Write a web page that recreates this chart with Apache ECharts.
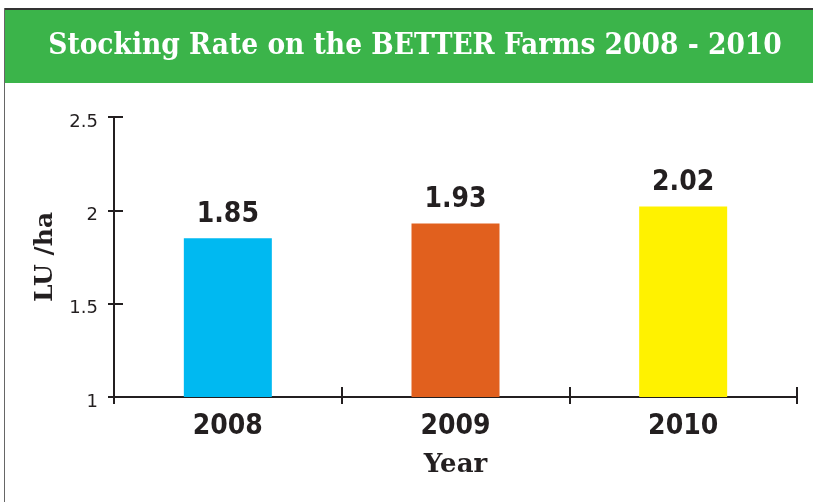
<!DOCTYPE html>
<html><head><meta charset="utf-8">
<script src="https://cdn.jsdelivr.net/npm/echarts@6/dist/echarts.min.js"></script>
<style>html,body{margin:0;padding:0;background:#fff}#c{width:813px;height:502px}</style>
</head><body><div id="c"></div>
<script>
const titleText = 'Stocking Rate on the BETTER Farms 2008 - 2010';
const categories = ['2008', '2009', '2010'];
const values = [1.85, 1.93, 2.02];
const barColors = ['#00b9f1', '#e1601e', '#fff200'];
const yTicks = [1, 1.5, 2, 2.5];
const yName = 'LU /ha';
const xName = 'Year';
const ink = '#231f20';

const chart = echarts.init(document.getElementById('c'));
const axisCommon = {min: yTicks[0], max: yTicks[yTicks.length-1], interval: yTicks[1]-yTicks[0], splitLine:{show:false}};
chart.setOption({
  animation:false,
  backgroundColor:'#fff',
  graphic:[
    {type:'rect', shape:{x:4,y:10,width:809,height:73}, style:{fill:'#3bb44a'}, z:0},
    {type:'rect', shape:{x:4,y:8,width:809,height:2}, style:{fill:'#333'}, z:1},
    {type:'rect', shape:{x:4,y:8,width:1,height:494}, style:{fill:'#666'}, z:1},
    {type:'text', x:415, y:46, style:{text:titleText, fill:'#fff', font:'bold 29.5px "DejaVu Serif Condensed", "DejaVu Serif"', align:'center', verticalAlign:'middle'}, z:2}
  ],
  grid:{left:114, right:16, top:117, bottom:105},
  xAxis:[{
    type:'category', data:categories,
    axisLine:{lineStyle:{color:ink,width:2}},
    axisTick:{show:true, inside:false, length:7, lineStyle:{color:ink,width:2}},
    axisLabel:{color:ink, fontSize:28, fontWeight:'bold', fontFamily:'"DejaVu Sans Condensed", "DejaVu Sans"', margin:16},
    name:xName, nameLocation:'middle', nameGap:55,
    nameTextStyle:{color:ink, fontSize:26, fontWeight:'bold', fontFamily:'"DejaVu Serif"'}
  },{
    type:'category', data:categories, position:'bottom',
    axisLine:{show:false},
    axisTick:{show:true, inside:true, length:10, lineStyle:{color:ink,width:2}},
    axisLabel:{show:false}
  }],
  yAxis:[Object.assign({
    type:'value',
    axisLine:{show:true, lineStyle:{color:ink,width:2}},
    axisTick:{show:true, inside:false, length:6, lineStyle:{color:ink,width:2}},
    axisLabel:{color:ink, fontSize:18, fontFamily:'"DejaVu Sans"', margin:16, verticalAlign:'top', lineHeight:10},
    name:yName, nameLocation:'middle', nameGap:47, nameRotate:90,
    nameTextStyle:{color:ink, fontSize:25, fontWeight:'bold', fontFamily:'"DejaVu Serif"'}
  }, axisCommon), Object.assign({
    type:'value', position:'left',
    axisLine:{show:false},
    axisTick:{show:true, inside:true, length:9, lineStyle:{color:ink,width:2}},
    axisLabel:{show:false}
  }, axisCommon)],
  series:[{
    type:'bar', xAxisIndex:0, yAxisIndex:0, barWidth:88,
    data: values.map((v,i)=>({value:v, itemStyle:{color:barColors[i]}})),
    label:{show:true, position:'top', distance:10, color:ink, fontSize:28, fontWeight:'bold', fontFamily:'"DejaVu Sans Condensed", "DejaVu Sans"', formatter:p=>p.value.toFixed(2)}
  }]
});
</script></body></html>
